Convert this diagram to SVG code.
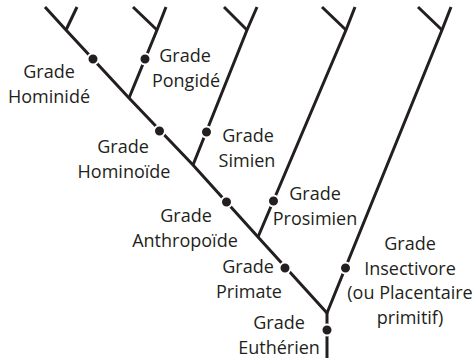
<svg xmlns="http://www.w3.org/2000/svg" width="473" height="361" viewBox="0 0 473 361">
<style>
.ln{fill:none;stroke:#231f20;stroke-width:3;stroke-linecap:butt;stroke-linejoin:miter}
.dot{fill:#231f20;stroke:#fff;stroke-width:2}
text{font-family:"Open Sans","Liberation Sans",sans-serif;font-size:18px;fill:#231f20;text-anchor:middle}
</style>
<rect width="473" height="361" fill="#fff"/>
<g id="connectors">
<polyline class="ln" points="45,7 66,30 129,98 193,165 258,237 327,313"/>
<line class="ln" x1="66" y1="30" x2="77" y2="7"/>
<polyline class="ln" points="129,98 157,30 166,7"/>
<line class="ln" x1="157" y1="30" x2="133" y2="7"/>
<polyline class="ln" points="193,165 247,30 257,7"/>
<line class="ln" x1="247" y1="30" x2="224" y2="7"/>
<polyline class="ln" points="258,237 346,30 355,7"/>
<line class="ln" x1="346" y1="30" x2="322" y2="7"/>
<polyline class="ln" points="327,313 442,30 451,7"/>
<line class="ln" x1="442" y1="30" x2="418" y2="7"/>
<line class="ln" x1="327" y1="312" x2="327" y2="358"/>
</g>
<g id="hominide">
<circle class="dot" cx="93" cy="59" r="5.5"/>
<text x="49" y="78">Grade</text>
<text x="49" y="103">Hominidé</text>
</g>
<g id="pongide">
<circle class="dot" cx="145" cy="59" r="5.5"/>
<text x="185" y="62">Grade</text>
<text x="186" y="87">Pongidé</text>
</g>
<g id="hominoide">
<circle class="dot" cx="159.5" cy="131" r="5.5"/>
<text x="123" y="153">Grade</text>
<text x="124" y="178">Hominoïde</text>
</g>
<g id="simien">
<circle class="dot" cx="206.5" cy="132" r="5.5"/>
<text x="248" y="142">Grade</text>
<text x="247" y="167">Simien</text>
</g>
<g id="prosimien">
<circle class="dot" cx="273.5" cy="201" r="5.5"/>
<text x="315" y="200">Grade</text>
<text x="315" y="225">Prosimien</text>
</g>
<g id="anthropoide">
<circle class="dot" cx="226.5" cy="202" r="5.5"/>
<text x="186" y="222">Grade</text>
<text x="185" y="247">Anthropoïde</text>
</g>
<g id="primate">
<circle class="dot" cx="285" cy="268" r="5.5"/>
<text x="248" y="273">Grade</text>
<text x="249" y="298">Primate</text>
</g>
<g id="insectivore">
<circle class="dot" cx="345.5" cy="268" r="5.5"/>
<text x="410" y="250">Grade</text>
<text x="410" y="274.5">Insectivore</text>
<text x="410" y="299">(ou Placentaire</text>
<text x="410" y="323.5">primitif)</text>
</g>
<g id="eutherien">
<circle class="dot" cx="327" cy="330" r="5.5"/>
<text x="279" y="329">Grade</text>
<text x="279" y="354">Euthérien</text>
</g>
</svg>
